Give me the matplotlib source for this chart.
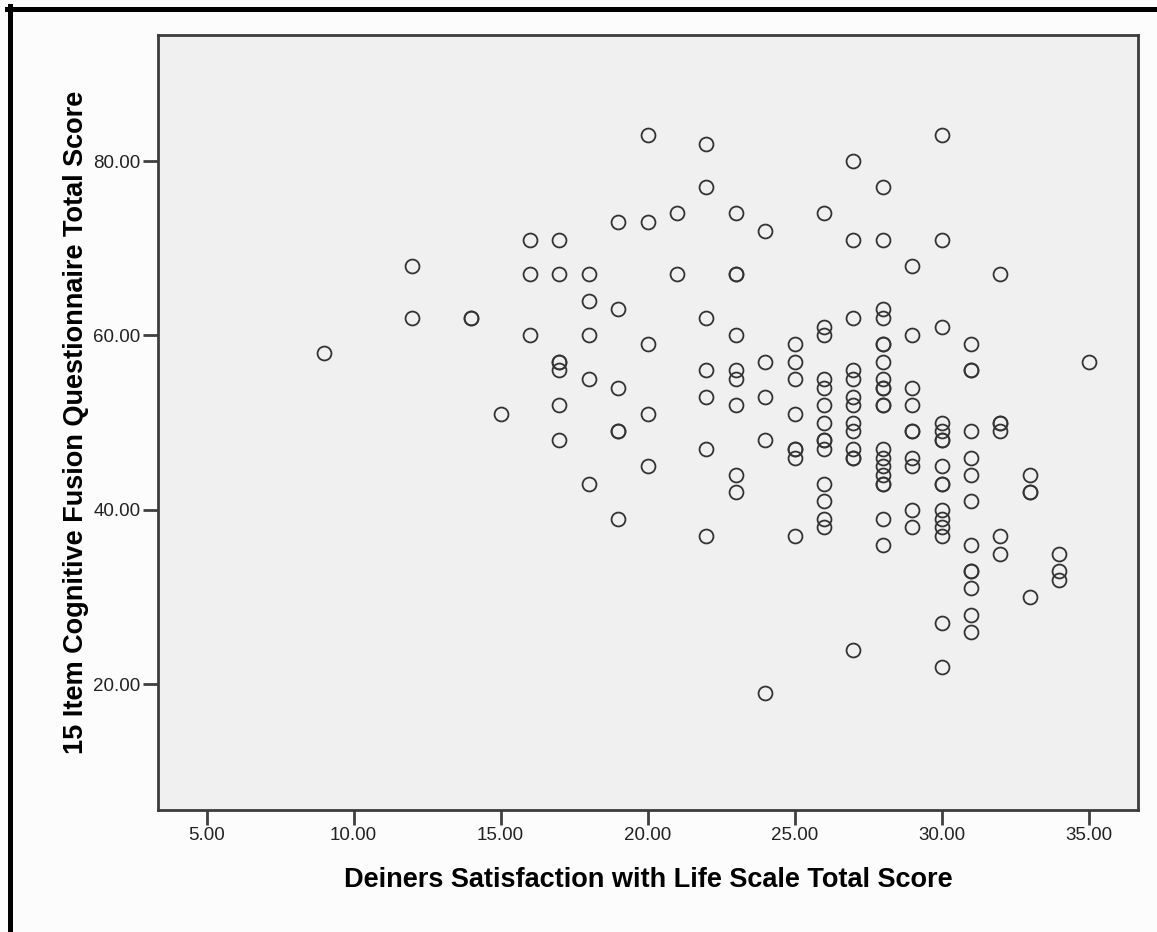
import matplotlib
matplotlib.use("Agg")
import matplotlib.pyplot as plt
from matplotlib.lines import Line2D

# Diener SWLS total score (x) vs CFQ-15 total score (y), one entry per case
swls = [9,
        12, 12,
        14, 14,
        15,
        16, 16, 16,
        17, 17, 17, 17, 17, 17, 17,
        18, 18, 18, 18, 18,
        19, 19, 19, 19, 19, 19,
        20, 20, 20, 20, 20,
        21, 21,
        22, 22, 22, 22, 22, 22, 22,
        23, 23, 23, 23, 23, 23, 23, 23, 23,
        24, 24, 24, 24, 24,
        25, 25, 25, 25, 25, 25, 25, 25,
        26, 26, 26, 26, 26, 26, 26, 26, 26, 26, 26, 26, 26, 26,
        27, 27, 27, 27, 27, 27, 27, 27, 27, 27, 27, 27, 27,
        28, 28, 28, 28, 28, 28, 28, 28, 28, 28, 28, 28, 28, 28, 28, 28, 28, 28, 28, 28,
        29, 29, 29, 29, 29, 29, 29, 29, 29, 29,
        30, 30, 30, 30, 30, 30, 30, 30, 30, 30, 30, 30, 30, 30, 30, 30,
        31, 31, 31, 31, 31, 31, 31, 31, 31, 31, 31, 31, 31,
        32, 32, 32, 32, 32, 32,
        33, 33, 33, 33,
        34, 34, 34,
        35]

cfq = [58,
       68, 62,
       62, 62,
       51,
       71, 67, 60,
       71, 67, 57, 57, 56, 52, 48,
       67, 64, 60, 55, 43,
       73, 63, 54, 49, 49, 39,
       83, 73, 59, 51, 45,
       74, 67,
       82, 77, 62, 56, 53, 47, 37,
       74, 67, 67, 60, 56, 55, 52, 44, 42,
       72, 57, 53, 48, 19,
       59, 57, 55, 51, 47, 47, 46, 37,
       74, 61, 60, 55, 54, 52, 50, 48, 48, 47, 43, 41, 39, 38,
       80, 71, 62, 56, 55, 53, 52, 50, 49, 47, 46, 46, 24,
       77, 71, 63, 62, 59, 59, 57, 55, 54, 54, 52, 52, 47, 46, 45, 44, 43, 43, 39, 36,
       68, 60, 54, 52, 49, 49, 46, 45, 40, 38,
       83, 71, 61, 50, 49, 48, 48, 45, 43, 43, 40, 39, 38, 37, 27, 22,
       59, 56, 56, 49, 46, 44, 41, 36, 33, 33, 31, 28, 26,
       67, 50, 50, 49, 37, 35,
       44, 42, 42, 30,
       35, 33, 32,
       57]

x_ticks = [5, 10, 15, 20, 25, 30, 35]
y_ticks = [20, 40, 60, 80]

plt.rcParams['font.family'] = ['Liberation Sans', 'DejaVu Sans']

fig = plt.figure(figsize=(11.57, 9.32), dpi=100, facecolor='#fcfcfc')
ax = fig.add_axes([158 / 1157, 1 - 810 / 932, 980 / 1157, 775 / 932])
ax.set_facecolor('#f0f0f0')

ax.plot(swls, cfq, linestyle='none', marker='o', markersize=10,
        markerfacecolor='none', markeredgecolor='#333333', markeredgewidth=1.3)

ax.set_xlim(3.35, 36.68)
ax.set_ylim(5.6, 94.45)
ax.set_xticks(x_ticks)
ax.set_yticks(y_ticks)
ax.set_xticklabels(['%.2f' % v for v in x_ticks])
ax.set_yticklabels(['%.2f' % v for v in y_ticks])
ax.tick_params(length=11, width=2, color='#404040', labelsize=13.5,
               labelcolor='#222222', pad=1.5)

for s in ax.spines.values():
    s.set_color('#3c3c3c')
    s.set_linewidth(2)

ax.set_xlabel('Deiners Satisfaction with Life Scale Total Score',
              fontsize=19.5, fontweight='bold', labelpad=16)
ax.set_ylabel('15 Item Cognitive Fusion Questionnaire Total Score',
              fontsize=19.5, fontweight='bold', labelpad=3)

# black frame on the top and left of the picture
fig.add_artist(Line2D([7 / 1157, 1], [1 - 8.5 / 932, 1 - 8.5 / 932],
                      color='black', linewidth=3.6, transform=fig.transFigure))
fig.add_artist(Line2D([9.5 / 1157, 9.5 / 1157], [0, 1 - 6 / 932],
                      color='black', linewidth=3.6, transform=fig.transFigure))

fig.savefig('out.png', dpi=100, facecolor=fig.get_facecolor())
